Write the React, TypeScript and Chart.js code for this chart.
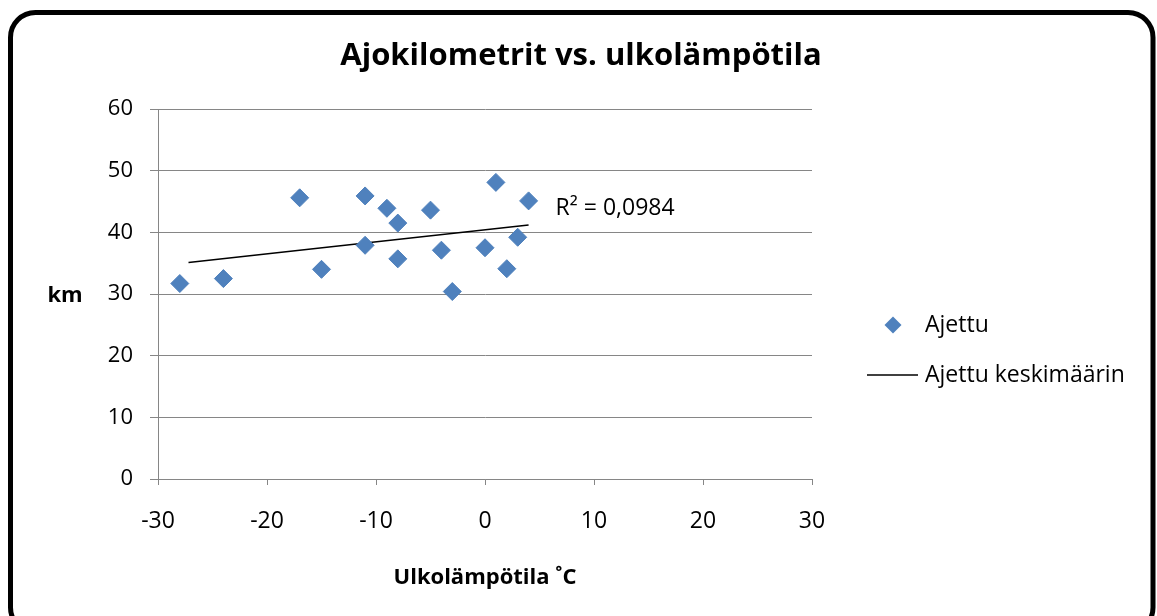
import React, { useEffect, useRef } from "react";
import { Chart, registerables } from "chart.js";

Chart.register(...registerables);

const TITLE = "Ajokilometrit vs. ulkolämpötila";
const X_TITLE = "Ulkolämpötila ˚C";
const Y_TITLE = "km";
const SERIES_NAME = "Ajettu";
const TREND_NAME = "Ajettu keskimäärin";
const R2_LABEL = "R² = 0,0984";

const temperatures = [-28, -24, -17, -15, -11, -11, -9, -8, -8, -5, -4, -3, 0, 1, 2, 3, 4];
const kilometres = [31.7, 32.5, 45.6, 34.0, 45.9, 37.9, 43.9, 41.5, 35.7, 43.6, 37.1, 30.4, 37.5, 48.1, 34.1, 39.2, 45.1];

const trendX = [-27.2, 4];
const trendY = [35.1, 41.2];

const xTicks = [-30, -20, -10, 0, 10, 20, 30];
const yTicks = [0, 10, 20, 30, 40, 50, 60];

const FONT = "'Open Sans', Lato, sans-serif";
const BLUE = "#4F81BD";
const GRID = "#868686";

const decorPlugin = {
  id: "decor",
  beforeDraw(chart: any) {
    const ctx = chart.ctx;
    ctx.save();
    ctx.fillStyle = "#ffffff";
    ctx.fillRect(0, 0, chart.width, chart.height);
    ctx.restore();
  },
  afterDraw(chart: any) {
    const ctx = chart.ctx;
    const area = chart.chartArea;
    const xs = chart.scales.x;
    const ys = chart.scales.y;
    ctx.save();
    // rounded frame
    ctx.lineWidth = 5;
    ctx.strokeStyle = "#000000";
    ctx.beginPath();
    ctx.roundRect(10.5, 12.5, 1142.5, 620, 25);
    ctx.stroke();

    ctx.fillStyle = "#000000";
    ctx.textBaseline = "middle";

    // title
    ctx.font = `bold 31px ${FONT}`;
    ctx.textAlign = "center";
    ctx.fillText(TITLE, 581, 56);

    // y axis title (horizontal)
    ctx.font = `bold 22px ${FONT}`;
    ctx.fillText(Y_TITLE, 65, (area.top + area.bottom) / 2 + 2);

    // R² label
    ctx.font = `23px ${FONT}`;
    ctx.textAlign = "left";
    ctx.fillText(R2_LABEL, xs.getPixelForValue(trendX[1]) + 27, ys.getPixelForValue(43.8));

    // legend
    const lx = area.right + 81;
    const ly1 = 325;
    const ly2 = 375;
    ctx.fillStyle = BLUE;
    ctx.beginPath();
    ctx.moveTo(lx, ly1 - 8.5);
    ctx.lineTo(lx + 8.5, ly1);
    ctx.lineTo(lx, ly1 + 8.5);
    ctx.lineTo(lx - 8.5, ly1);
    ctx.closePath();
    ctx.fill();
    ctx.strokeStyle = "#000000";
    ctx.lineWidth = 1.5;
    ctx.beginPath();
    ctx.moveTo(lx - 26, ly2);
    ctx.lineTo(lx + 25, ly2);
    ctx.stroke();
    ctx.fillStyle = "#000000";
    ctx.font = `23px ${FONT}`;
    ctx.textAlign = "left";
    ctx.textBaseline = "middle";
    ctx.fillText(SERIES_NAME, lx + 32, ly1);
    ctx.fillText(TREND_NAME, lx + 32, ly2);
    ctx.restore();
  },
};

export default function App() {
  const ref = useRef<HTMLCanvasElement | null>(null);
  useEffect(() => {
    if (!ref.current) return;
    const chart = new Chart(ref.current, {
      type: "scatter",
      data: {
        datasets: [
          {
            label: SERIES_NAME,
            data: temperatures.map((t, i) => ({ x: t, y: kilometres[i] })),
            pointStyle: "rectRot",
            pointRadius: 9,
            pointHoverRadius: 9,
            backgroundColor: BLUE,
            borderColor: BLUE,
            borderWidth: 1,
          },
          {
            label: TREND_NAME,
            type: "line",
            data: trendX.map((t, i) => ({ x: t, y: trendY[i] })),
            borderColor: "#000000",
            borderWidth: 1.5,
            pointRadius: 0,
            fill: false,
          } as any,
        ],
      },
      plugins: [decorPlugin],
      options: {
        animation: false,
        responsive: false,
        events: [],
        layout: { padding: { left: 0, right: 345, top: 109, bottom: 0 } },
        plugins: {
          legend: { display: false },
          tooltip: { enabled: false },
          title: { display: false },
        },
        scales: {
          x: {
            type: "linear",
            min: -30,
            max: 30,
            afterBuildTicks: (s: any) => {
              s.ticks = xTicks.map((v) => ({ value: v }));
            },
            afterFit: (s: any) => {
              s.height = 137;
            },
            grid: { drawOnChartArea: false, drawTicks: true, tickLength: 6, color: GRID },
            border: { display: true, color: GRID, width: 1 },
            ticks: { color: "#000000", font: { family: FONT, size: 23 }, padding: 23 },
            title: {
              display: true,
              text: X_TITLE,
              color: "#000000",
              font: { family: FONT, size: 22, weight: "bold" },
              padding: { top: 0, bottom: 25 },
            },
          },
          y: {
            type: "linear",
            min: 0,
            max: 60,
            afterBuildTicks: (s: any) => {
              s.ticks = yTicks.map((v) => ({ value: v }));
            },
            afterFit: (s: any) => {
              s.width = 158;
            },
            grid: { color: GRID, drawTicks: true, tickLength: 8 },
            border: { display: true, color: GRID, width: 1 },
            ticks: { color: "#000000", font: { family: FONT, size: 22 }, padding: 17 },
          },
        },
      },
    });
    return () => chart.destroy();
  }, []);
  return (
    <div style={{ position: "fixed", left: 0, top: 0, width: 1157, height: 616, background: "#fff" }}>
      <canvas ref={ref} width={1157} height={616} style={{ display: "block" }} />
    </div>
  );
}
